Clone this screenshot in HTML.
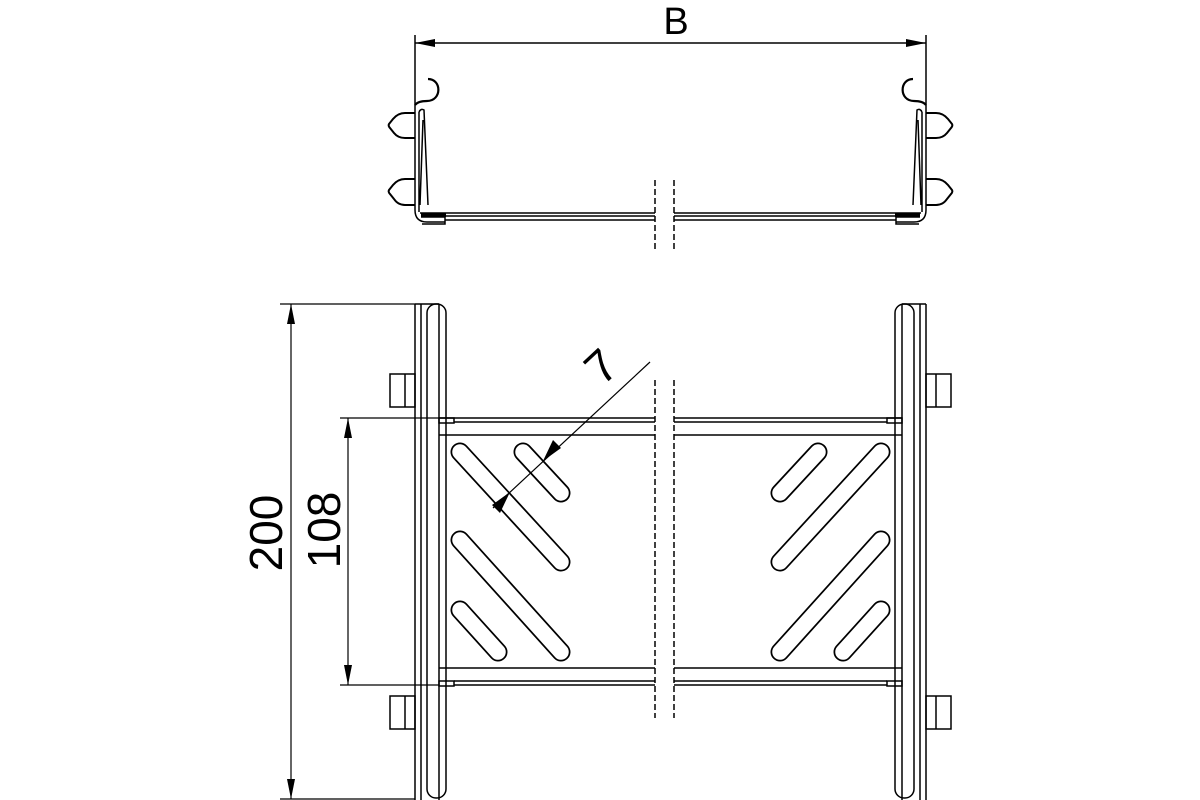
<!DOCTYPE html>
<html><head><meta charset="utf-8"><style>html,body{margin:0;padding:0;background:#fff}svg{display:block}</style></head>
<body>
<svg width="1200" height="800" viewBox="0 0 1200 800" xmlns="http://www.w3.org/2000/svg" fill="none" stroke="#000" stroke-width="1.5">
<defs>
<marker id="a" viewBox="0 0 20 8" refX="20" refY="4" markerWidth="20" markerHeight="8" markerUnits="userSpaceOnUse" orient="auto-start-reverse"><path d="M0,0 L20,4 L0,8 Z" fill="#000" stroke="none"/></marker>
<g id="topside">
<path d="M415,35 V210 Q415,222 427,222 H445"/>
<path d="M415,105 Q418,101 427,101 C442,101 442,79 428,79" stroke-width="2.2"/>
<path d="M415,113 H405 Q398,113 393,119 L389,124 Q388,126 390,128 L394,133 Q398,138 405,138 H415" stroke-width="2" stroke-linejoin="round"/>
<path d="M415,179 H405 Q398,179 393,185 L389,190 Q388,192 390,194 L394,199 Q398,205 405,205 H415" stroke-width="2" stroke-linejoin="round"/>
<path d="M419,112 V212 M419,112 Q421,108 424,110 L428,205 M423,120 L420,205"/>
<path d="M421,217 H445 V224 H422"/>
<rect x="421" y="213" width="25" height="4" fill="#000" stroke="none"/>
</g>
<g id="botside">
<path d="M415,304 V800 M421,304 V800 M439,304 V800 M415,304 H439"/>
<rect x="427" y="304" width="19" height="494" rx="9"/>
<rect x="390" y="374" width="25" height="33"/>
<path d="M405,374 V407"/>
<rect x="390" y="696" width="25" height="33"/>
<path d="M405,696 V729"/>
<rect x="439" y="418" width="15" height="5"/>
<rect x="439" y="681" width="15" height="5"/>
<path d="M460,452 L561,562 M523,452 L561,493 M460,540 L561,652 M460,610 L498,652" stroke-width="19" stroke-linecap="round"/>
<path d="M460,452 L561,562 M523,452 L561,493 M460,540 L561,652 M460,610 L498,652" stroke="#fff" stroke-width="15.5" stroke-linecap="round"/>
</g>
</defs>
<!-- top view -->
<path d="M415,43 H926" marker-start="url(#a)" marker-end="url(#a)"/>
<text x="676" y="34" font-family="Liberation Sans, sans-serif" font-size="38" fill="#000" stroke="none" text-anchor="middle">B</text>
<use href="#topside"/>
<use href="#topside" transform="translate(1341,0) scale(-1,1)"/>
<path d="M420,213 H655 M422,216 H655 M445,220 H655 M674,213 H921 M674,216 H919 M674,220 H896"/>
<path d="M655,180 V252 M674,180 V252" stroke-dasharray="6,3"/>
<!-- bottom view -->
<use href="#botside"/>
<use href="#botside" transform="translate(1341,0) scale(-1,1)"/>
<path d="M439,418 H655 M454,422 H655 M439,435 H655 M439,668 H655 M454,681 H655 M454,685 H655"/>
<path d="M674,418 H902 M674,422 H887 M674,435 H902 M674,668 H902 M674,681 H887 M674,685 H887"/>
<path d="M655,380 V718 M674,380 V718" stroke-dasharray="6,3"/>
<!-- dims -->
<path d="M280,304 H415 M280,799 H415 M340,418 H439 M340,685 H439" stroke-width="1.2"/>
<path d="M291,304 V799" stroke-width="1.2" marker-start="url(#a)" marker-end="url(#a)"/>
<path d="M348,418 V685" stroke-width="1.2" marker-start="url(#a)" marker-end="url(#a)"/>
<text transform="translate(282,533) rotate(-90)" font-family="Liberation Sans, sans-serif" font-size="46" fill="#000" stroke="none" text-anchor="middle">200</text>
<text transform="translate(340,530) rotate(-90)" font-family="Liberation Sans, sans-serif" font-size="46" fill="#000" stroke="none" text-anchor="middle">108</text>
<path d="M650,362 L493,508" stroke-width="1.2"/>
<path d="M543,461 L553,440 L561,448 Z" fill="#000" stroke="none"/>
<path d="M510,492 L500,513 L492,505 Z" fill="#000" stroke="none"/>
<text transform="translate(612,378) rotate(-43)" font-family="Liberation Sans, sans-serif" font-size="46" fill="#000" stroke="none" text-anchor="middle">7</text>
</svg>
</body></html>
